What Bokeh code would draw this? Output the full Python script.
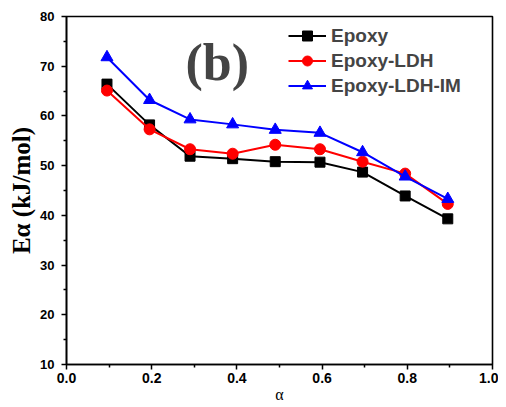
from bokeh.plotting import figure
from bokeh.models import Label, Legend, LegendItem, Range1d, FixedTicker
from bokeh.embed import file_html
from bokeh.resources import INLINE

alpha = [0.095, 0.195, 0.29, 0.39, 0.49, 0.595, 0.695, 0.795, 0.895]
epoxy = [66.4, 58.2, 51.9, 51.4, 50.8, 50.7, 48.7, 43.9, 39.3]
epoxy_ldh = [65.1, 57.3, 53.3, 52.4, 54.2, 53.3, 50.8, 48.4, 42.3]
epoxy_ldh_im = [71.8, 63.2, 59.3, 58.3, 57.2, 56.6, 52.7, 47.8, 43.3]

x_ticks = [0.0, 0.2, 0.4, 0.6, 0.8, 1.0]
x_minor = [0.1, 0.3, 0.5, 0.7, 0.9]
y_ticks = [10, 20, 30, 40, 50, 60, 70, 80]
y_minor = [15, 25, 35, 45, 55, 65, 75]

SANS = "Liberation Sans"
SERIF = "Liberation Serif"

p = figure(width=498, height=405, output_backend="svg", toolbar_location=None,
           x_range=Range1d(0, 1.0), y_range=Range1d(10, 80),
           min_border_left=66, min_border_right=6, min_border_top=16, min_border_bottom=20)
p.background_fill_color = "white"
p.border_fill_color = "white"
p.xgrid.visible = False
p.ygrid.visible = False
p.outline_line_color = "black"
p.outline_line_width = 1.6
p.outline_line_alpha = 1.0

for ax in (p.xaxis[0], p.yaxis[0]):
    ax.axis_line_width = 1.6
    ax.axis_line_color = "black"
    ax.major_tick_line_color = "black"
    ax.minor_tick_line_color = "black"
    ax.major_tick_line_width = 1.5
    ax.minor_tick_line_width = 1.5
    ax.major_tick_out = 5
    ax.major_tick_in = 0
    ax.minor_tick_out = 3
    ax.minor_tick_in = 0
    ax.major_label_text_font = SANS
    ax.major_label_text_font_style = "bold"
    ax.major_label_text_color = "black"
    ax.axis_label_text_color = "black"

p.xaxis.ticker = FixedTicker(ticks=x_ticks, minor_ticks=x_minor)
p.yaxis.ticker = FixedTicker(ticks=y_ticks, minor_ticks=y_minor)
p.xaxis.major_label_overrides = {t: f"{t:.1f}" for t in x_ticks}
p.xaxis.major_label_text_font_size = "14px"
p.yaxis.major_label_text_font_size = "13px"
p.xaxis.major_label_standoff = 3
p.yaxis.major_label_standoff = 7

p.xaxis.axis_label = "α"
p.xaxis.axis_label_text_font = SERIF
p.xaxis.axis_label_text_font_style = "normal"
p.xaxis.axis_label_text_font_size = "16px"
p.xaxis.axis_label_standoff = 0

p.yaxis.axis_label = "Eα (kJ/mol)"
p.yaxis.axis_label_text_font = SERIF
p.yaxis.axis_label_text_font_style = "bold"
p.yaxis.axis_label_text_font_size = "25px"
p.yaxis.axis_label_standoff = 2

r1l = p.line(alpha, epoxy, line_color="black", line_width=2)
r1m = p.scatter(alpha, epoxy, marker="square", size=10, color="black")
r2l = p.line(alpha, epoxy_ldh, line_color="#ff0000", line_width=2)
r2m = p.scatter(alpha, epoxy_ldh, marker="circle", size=11, color="#ff0000")
r3l = p.line(alpha, epoxy_ldh_im, line_color="#0000ff", line_width=2)
r3m = p.scatter(alpha, epoxy_ldh_im, marker="triangle", size=12, color="#0000ff")

legend = Legend(items=[
    LegendItem(label="Epoxy", renderers=[r1l, r1m]),
    LegendItem(label="Epoxy-LDH", renderers=[r2l, r2m]),
    LegendItem(label="Epoxy-LDH-IM", renderers=[r3l, r3m]),
], location=(222, 266))
legend.border_line_color = None
legend.background_fill_alpha = 0
legend.padding = 0
legend.margin = 0
legend.spacing = 0
legend.glyph_width = 38
legend.glyph_height = 25
legend.label_height = 25
legend.label_standoff = 5
legend.label_text_font = SANS
legend.label_text_font_style = "bold"
legend.label_text_font_size = "19px"
p.add_layout(legend)

p.add_layout(Label(x=0.354, y=70.7, text="(b)", text_font=SERIF, text_font_style="bold",
                   text_font_size="52px", text_align="center", text_baseline="middle"))

open("out.html", "w").write(file_html(p, INLINE))
